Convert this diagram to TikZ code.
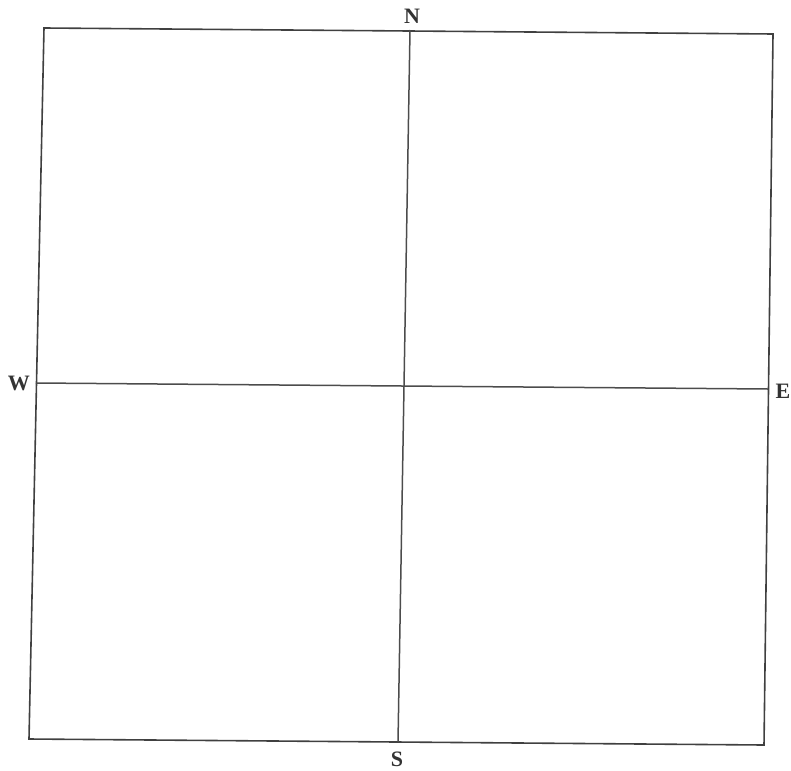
\documentclass[tikz,border=0pt]{standalone}
\usepackage{fontspec}
\setmainfont{Liberation Serif}
\usetikzlibrary{positioning}

\begin{document}
\begin{tikzpicture}[
  x=1pt, y=-1pt,
  frame/.style={draw=black!75, line width=1.6pt, line join=miter},
  crossline/.style={draw=black!70, line width=1.5pt},
  compass/.style={font=\fontsize{22}{22}\selectfont\bfseries, text=black!80, inner sep=0pt},
]
\useasboundingbox (0,0) rectangle (791,770);

%% ── Corners and edge points ─────────────────────────────────────────────────
\coordinate (tl) at (44,28);
\coordinate (tr) at (773,34);
\coordinate (br) at (764,745);
\coordinate (bl) at (29,739);

\coordinate (ntop) at (410,30);
\coordinate (sbot) at (398,742);
\coordinate (wmid) at (36,383);
\coordinate (emid) at (768,389);

%% ── Outer square ────────────────────────────────────────────────────────────
\draw[frame] (tl) -- (tr) -- (br) -- (bl) -- cycle;

%% ── Cross ───────────────────────────────────────────────────────────────────
\draw[crossline] (ntop) -- (sbot);
\draw[crossline] (wmid) -- (emid);

%% ── Compass letters ─────────────────────────────────────────────────────────
\node[compass] (north) at (412,16) {N};
\node[compass] (south) at (397,759) {S};
\node[compass] (west)  at (19,383) {W};
\node[compass] (east)  at (783,391) {E};

\end{tikzpicture}
\end{document}
